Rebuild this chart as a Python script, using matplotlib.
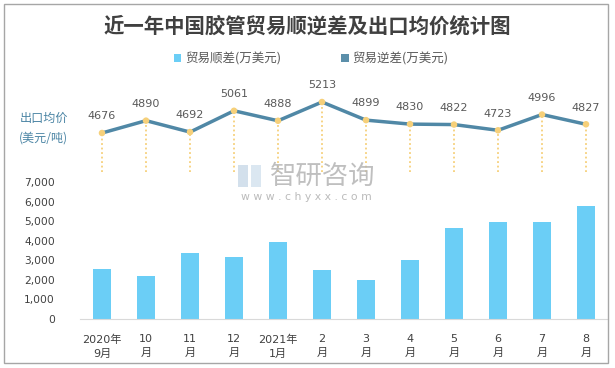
import matplotlib
matplotlib.use("Agg")
import matplotlib.pyplot as plt
from matplotlib.patches import Rectangle, Patch

plt.rcParams['font.family'] = ['DejaVu Sans', 'Noto Sans CJK SC']

categories = ["2020年\n9月", "10\n月", "11\n月", "12\n月", "2021年\n1月", "2\n月",
              "3\n月", "4\n月", "5\n月", "6\n月", "7\n月", "8\n月"]
surplus = [2570, 2210, 3380, 3180, 3940, 2520, 2010, 3030, 4660, 4960, 4970, 5780]
price = [4676, 4890, 4692, 5061, 4888, 5213, 4899, 4830, 4822, 4723, 4996, 4827]
yticks = [0, 1000, 2000, 3000, 4000, 5000, 6000, 7000]

W, H = 615, 368
fig = plt.figure(figsize=(W / 100, H / 100), dpi=100)
fig.patch.set_facecolor("white")

def fx(px):
    return px / W

def fy(py):
    return 1 - py / H

bar_color = "#6BCEF6"
line_color = "#5088A6"
dot_color = "#F6D07A"
text_color = "#404040"

# border
fig.patches.append(Rectangle((fx(4), fy(363)), fx(604), (363 - 4) / H,
                             transform=fig.transFigure, fill=False,
                             edgecolor="#A6A6A6", linewidth=1.0))

x = list(range(len(categories)))
left, right = fx(80), fx(608)

# bar axis
ax = fig.add_axes([left, fy(319), right - left, (319 - 182) / H])
ax.bar(x, surplus, width=0.41, color=bar_color, zorder=2)
ax.set_xlim(-0.5, len(categories) - 0.5)
ax.set_ylim(0, 7000)
ax.set_yticks(yticks)
ax.set_yticklabels([f"{v:,}" for v in yticks], fontsize=7.7, color=text_color)
ax.set_xticks(x)
ax.set_xticklabels(categories, fontsize=8, color=text_color, linespacing=1.5,
                   family=['DejaVu Sans', 'Noto Sans CJK SC'])
ax.tick_params(axis='both', length=0)
ax.tick_params(axis='x', pad=11)
ax.tick_params(axis='y', pad=18)
for s in ["top", "right", "left"]:
    ax.spines[s].set_visible(False)
ax.spines["bottom"].set_color("#D9D9D9")
ax.patch.set_alpha(0)

# price axis
pbot = 4000
ptop = pbot + (172 - 80) / 0.0577
ax2 = fig.add_axes([left, fy(172), right - left, (172 - 80) / H])
ax2.set_xlim(-0.5, len(categories) - 0.5)
ax2.set_ylim(pbot, ptop)
ax2.axis("off")
ax2.vlines(x, pbot, price, colors=dot_color, linestyles=(0, (1, 1.5)), linewidth=1.3, zorder=1)
ax2.plot(x, price, color=line_color, linewidth=2.5, zorder=2, solid_capstyle='round')
ax2.scatter(x, price, s=22, color=dot_color, zorder=3, edgecolors="none")
for xi, v in zip(x, price):
    ax2.annotate(str(v), (xi, v), xytext=(0, 12), textcoords="offset points",
                 ha="center", va="center", fontsize=8, color="#595959")

# title
fig.text(0.5, fy(26), "近一年中国胶管贸易顺逆差及出口均价统计图", ha="center", va="center",
         fontsize=14.7, fontweight="bold", color=text_color,
         family=['Noto Sans CJK SC'])

# legend
handles = [Patch(facecolor=bar_color, edgecolor="none"),
           Patch(facecolor="#5B8FAA", edgecolor="none")]
fig.legend(handles, ["贸易顺差(万美元)", "贸易逆差(万美元)"], loc="center",
           bbox_to_anchor=(fx(311), fy(59)), ncol=2, frameon=False,
           prop={'family': ['Noto Sans CJK SC'], 'size': 9},
           handlelength=0.6, handleheight=0.6, handletextpad=0.3,
           columnspacing=4.8, labelcolor="#595959")

# side label
fig.text(fx(20), fy(118), "出口均价", ha="left", va="center", fontsize=8.7,
         color="#4A84A4", family=['Noto Sans CJK SC'])
fig.text(fx(19), fy(138), "(美元/吨)", ha="left", va="center", fontsize=8.7,
         color="#4A84A4", family=['Noto Sans CJK SC'])

# watermark
fig.patches.append(Rectangle((fx(238), fy(187)), fx(10), 22 / H, transform=fig.transFigure,
                             facecolor="#C9D9E8", edgecolor="none", alpha=0.8, zorder=5))
fig.patches.append(Rectangle((fx(251), fy(187)), fx(10), 22 / H, transform=fig.transFigure,
                             facecolor="#D3E2EE", edgecolor="none", alpha=0.8, zorder=5))
fig.text(fx(323), fy(176), "智研咨询", ha="center", va="center", fontsize=19,
         color="#B4B4B4", alpha=0.85, family=['Noto Sans CJK SC'])
fig.text(fx(306), fy(197), "w w w . c h y x x . c o m", ha="center", va="center",
         fontsize=7.8, color="#B4B4B4", alpha=0.9)

fig.savefig("out.png", dpi=100, facecolor="white")
